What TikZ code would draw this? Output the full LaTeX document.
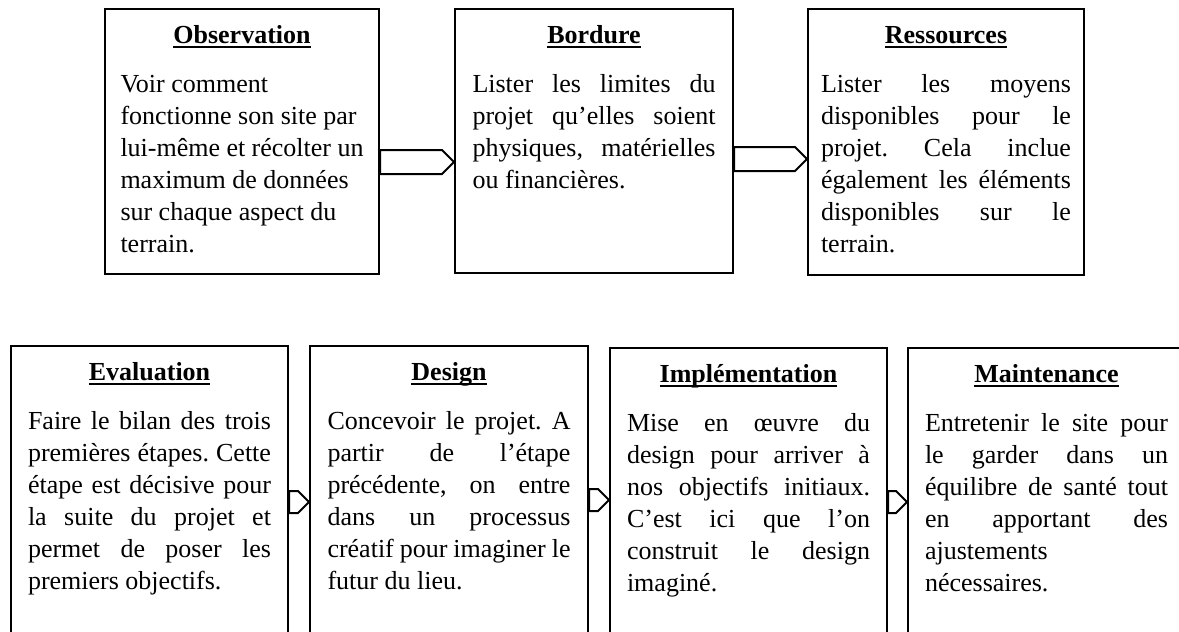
\documentclass[tikz,border=0pt]{standalone}
\usepackage{fontspec}
\setmainfont{Liberation Serif}
\usetikzlibrary{calc}
\tolerance=9999
\hyphenpenalty=10000
\hbadness=10000
\def\flowarrow(#1)(#2)(#3:#4){\coordinate (arrowtip) at ($(#1.north east)+(0,#3)$);
	\draw[flow] ($(#1.north east)+(0,{#3-#4})$) -- ($(#2.west |- arrowtip)+({-#4},{-#4})$) -- (#2.west |- arrowtip) -- ($(#2.west |- arrowtip)+({-#4},#4)$) -- ($(#1.north east)+(0,{#3+#4})$) -- cycle;}
\newcommand\heading[1]{\setbox0\hbox{\textbf{#1}}\rlap{\rule[-2.6pt]{\wd0}{1.3pt}}\box0}
\newcommand\steptext[5][121.5pt]{\parbox[c][#2][t]{#1}{\vspace*{5.8pt}{\centering\strut\heading{#3}\par}\vspace{8.5pt}#4#5}}
\tikzset{
	stepbox/.style={draw, line width=1pt, inner sep=0pt, anchor=north west, font=\fontsize{13}{16}\selectfont\frenchspacing},
	flow/.style={draw, line width=1pt, fill=white, line join=miter},
}

\begin{document}
\begin{tikzpicture}[x=0.5pt, y=-0.5pt]
			%%%%% START %%%%%
			
			\useasboundingbox (0,0) rectangle (1179,632);
			\fill[white] (0,0) rectangle (1179,632);
			\clip (0,0) rectangle (1179,632);
			
			% first row
			\node[stepbox, minimum width=137pt] (obs) at (104,8) {\steptext{132.5pt}{Observation}{\raggedright}{Voir comment\\ fonctionne son site par\\ lui-même et récolter un\\ maximum de données\\ sur chaque aspect du\\ terrain.}};
			\node[stepbox, minimum width=139pt] (bord) at (454,8) {\steptext{132pt}{Bordure}{}{Lister les limites du\linebreak projet qu’elles soient\linebreak physiques, matérielles\linebreak ou financières.}};
			\node[stepbox, minimum width=138pt] (res) at (807,8) {\steptext[125pt]{133pt}{Ressources}{}{Lister les moyens\linebreak disponibles pour le\linebreak projet. Cela inclue\linebreak également les éléments\linebreak disponibles sur le\linebreak terrain.}};
			
			\flowarrow(obs)(bord)(154:12)
			\flowarrow(bord)(res)(151:12)
			
			% second row
			\node[stepbox, minimum width=138.5pt] (eval) at (10,345) {\steptext{150pt}{Evaluation}{}{Faire le bilan des trois\linebreak premières étapes. Cette\linebreak étape est décisive pour\linebreak la suite du projet et\linebreak permet de poser les\linebreak premiers objectifs.}};
			\node[stepbox, minimum width=139pt] (design) at (309,345) {\steptext{150pt}{Design}{}{Concevoir le projet. A\linebreak partir de l’étape\linebreak précédente, on entre\linebreak dans un processus\linebreak créatif pour imaginer le\linebreak futur du lieu.}};
			\node[stepbox, minimum width=138.5pt] (impl) at (609,347) {\steptext{150pt}{Implémentation}{}{Mise en œuvre du\linebreak design pour arriver à\linebreak nos objectifs initiaux.\linebreak C’est ici que l’on\linebreak construit le design\linebreak imaginé.}};
			\node[stepbox, minimum width=138.5pt] (maint) at (907,347) {\steptext{150pt}{Maintenance}{}{Entretenir le site pour\linebreak le garder dans un\linebreak équilibre de santé tout\linebreak en apportant des\linebreak ajustements\\ nécessaires.}};
			
			\flowarrow(eval)(design)(157:11)
			\flowarrow(design)(impl)(155:11)
			\flowarrow(impl)(maint)(155:11)
			
			%%%%% END %%%%%
\end{tikzpicture}
\end{document}
